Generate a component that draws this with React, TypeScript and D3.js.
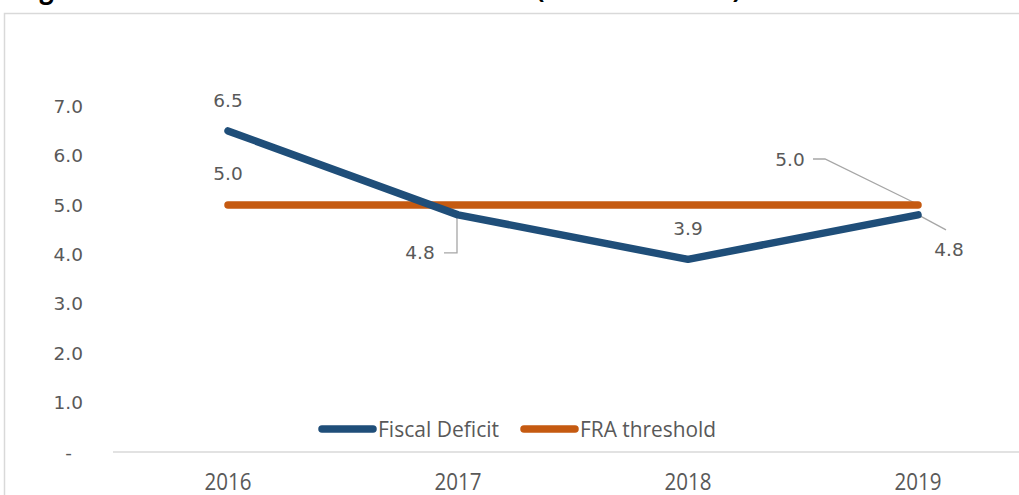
import React from "react";
import * as d3 from "d3";

const years = ["2016", "2017", "2018", "2019"];
const fiscalDeficit = [6.5, 4.8, 3.9, 4.8];
const fraThreshold = [5.0, 5.0, 5.0, 5.0];
const yTicks = [0, 1, 2, 3, 4, 5, 6, 7];
const seriesNames = ["Fiscal Deficit", "FRA threshold"];
const title = "Figure 2: Fiscal Deficit and FRA Threshold (Percent of GDP)";

const W = 1019;
const H = 495;
const BLUE = "#1f4e79";
const ORANGE = "#c55a11";
const TEXT = "#595959";
const GRID = "#d9d9d9";

export default function App() {
  const x = d3.scalePoint<string>().domain(years).range([113, 1033]).padding(0.5);
  const y = d3.scaleLinear().domain([0, 8]).range([452, 56.8]);
  const line = d3
    .line<number>()
    .x((_, i) => x(years[i]) as number)
    .y((d) => y(d));

  const labelFont = "'DejaVu Sans', sans-serif";
  const catFont = "'Open Sans', sans-serif";

  const px = (i: number) => x(years[i]) as number;
  const fmt = d3.format(".1f");

  return (
    <svg
      width={W}
      height={H}
      style={{ position: "absolute", left: 0, top: 0, display: "block", background: "#fff" }}
    >
      {/* clipped title */}
      <text x={18} y={-2} fontFamily={catFont} fontWeight={700} fontSize={28} fill="#000" textLength={723} lengthAdjust="spacingAndGlyphs">
        {title}
      </text>

      {/* chart border */}
      <rect x={4.5} y={13.5} width={1200} height={700} fill="none" stroke={GRID} strokeWidth={1.5} />

      {/* y tick labels */}
      {yTicks.map((t) => (
        <text
          key={t}
          x={t === 0 ? 72 : 83}
          y={y(t)}
          dy="0.36em"
          textAnchor="end"
          fontFamily={labelFont}
          fontSize={18.5}
          fill={TEXT}
        >
          {t === 0 ? "-" : fmt(t)}
        </text>
      ))}

      {/* x axis */}
      <line x1={113} x2={1040} y1={y(0)} y2={y(0)} stroke={GRID} strokeWidth={1.5} />
      {years.map((yr) => (
        <text
          key={yr}
          x={x(yr)}
          y={490}
          textAnchor="middle"
          fontFamily={catFont}
          fontSize={23}
          fill={TEXT}
          textLength={47}
          lengthAdjust="spacingAndGlyphs"
        >
          {yr}
        </text>
      ))}

      {/* leader lines */}
      <polyline
        points={`${px(1) - 1},${y(fiscalDeficit[1]) + 1} ${px(1) - 1},${y(fiscalDeficit[1]) + 38} ${px(1) - 14},${y(fiscalDeficit[1]) + 38}`}
        fill="none"
        stroke="#a6a6a6"
        strokeWidth={1.3}
      />
      <polyline
        points={`${px(3) - 1},${y(fraThreshold[3]) - 1} ${px(3) - 93},${y(fraThreshold[3]) - 46} ${px(3) - 105},${y(fraThreshold[3]) - 46}`}
        fill="none"
        stroke="#a6a6a6"
        strokeWidth={1.3}
      />
      <polyline
        points={`${px(3) + 2},${y(fiscalDeficit[3]) + 1} ${px(3) + 28},${y(fiscalDeficit[3]) + 15}`}
        fill="none"
        stroke="#a6a6a6"
        strokeWidth={1.3}
      />

      {/* series lines */}
      <path d={line(fraThreshold) || ""} fill="none" stroke={ORANGE} strokeWidth={7.5} strokeLinecap="round" strokeLinejoin="round" />
      <path d={line(fiscalDeficit) || ""} fill="none" stroke={BLUE} strokeWidth={7.5} strokeLinecap="round" strokeLinejoin="round" />

      {/* data labels */}
      <g fontFamily={labelFont} fontSize={18.5} fill={TEXT} textAnchor="middle">
        <text x={px(0)} y={y(fiscalDeficit[0]) - 24}>{fmt(fiscalDeficit[0])}</text>
        <text x={px(0)} y={y(fraThreshold[0]) - 25}>{fmt(fraThreshold[0])}</text>
        <text x={px(1) - 38} y={y(fiscalDeficit[1]) + 44}>{fmt(fiscalDeficit[1])}</text>
        <text x={px(2)} y={y(fiscalDeficit[2]) - 24}>{fmt(fiscalDeficit[2])}</text>
        <text x={px(3) - 128} y={y(fraThreshold[3]) - 39}>{fmt(fraThreshold[3])}</text>
        <text x={px(3) + 31} y={y(fiscalDeficit[3]) + 41}>{fmt(fiscalDeficit[3])}</text>
      </g>

      {/* legend */}
      <g>
        <line x1={322} x2={373} y1={429} y2={429} stroke={BLUE} strokeWidth={7.5} strokeLinecap="round" />
        <text x={378} y={436.5} fontFamily={catFont} fontSize={21} fill={TEXT} textLength={121} lengthAdjust="spacingAndGlyphs">
          {seriesNames[0]}
        </text>
        <line x1={524} x2={575} y1={429} y2={429} stroke={ORANGE} strokeWidth={7.5} strokeLinecap="round" />
        <text x={580} y={436.5} fontFamily={catFont} fontSize={21} fill={TEXT} textLength={136} lengthAdjust="spacingAndGlyphs">
          {seriesNames[1]}
        </text>
      </g>
    </svg>
  );
}
